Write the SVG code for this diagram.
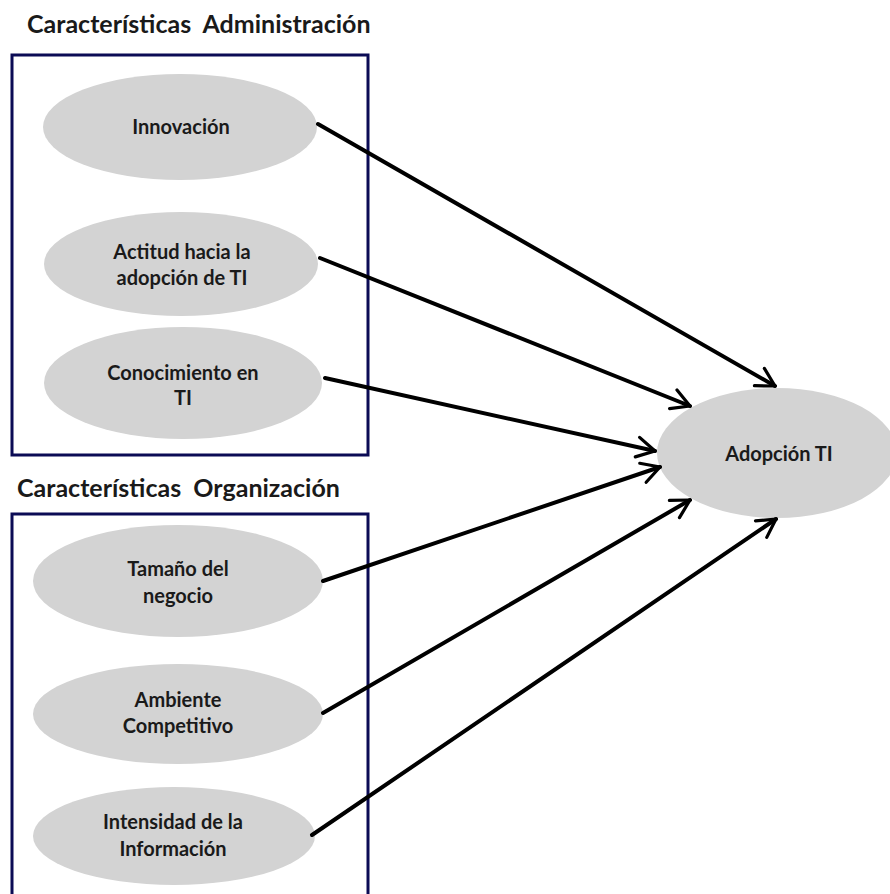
<svg xmlns="http://www.w3.org/2000/svg" width="890" height="894" viewBox="0 0 890 894">
  <style>
    .title { font-family: Lato, "Open Sans", "Liberation Sans", sans-serif; font-weight: bold; font-size: 25px; fill: #1a1a1a; white-space: pre; }
    .label { font-family: Lato, "Open Sans", "Liberation Sans", sans-serif; font-weight: bold; font-size: 20px; fill: #1a1a1a; text-anchor: middle; }
    .frame { fill: none; stroke: #0b0b55; stroke-width: 3; }
    .node { fill: #d3d3d3; }
    .link { fill: none; stroke: #000; stroke-width: 4; stroke-linecap: round; marker-end: url(#chevron); }
  </style>
  <defs>
    <marker id="chevron" viewBox="0 0 12 12" refX="10" refY="6" markerWidth="6" markerHeight="6" markerUnits="strokeWidth" orient="auto">
      <path d="M1,1 L10,6 L1,11" fill="none" stroke="#000" stroke-width="1.6" stroke-linecap="round" stroke-linejoin="round"/>
    </marker>
  </defs>
  <rect width="890" height="894" fill="#fff"/>

  <!-- group frames -->
  <g id="grupo-administracion">
    <text class="title" x="27" y="33" xml:space="preserve">Características  Administración</text>
    <rect class="frame" x="12" y="55" width="356" height="400"/>
  </g>
  <g id="grupo-organizacion">
    <text class="title" x="17" y="497" xml:space="preserve">Características  Organización</text>
    <rect class="frame" x="12" y="514" width="356" height="400"/>
  </g>

  <!-- nodes -->
  <g id="innovacion">
    <ellipse class="node" cx="180" cy="127" rx="137" ry="53"/>
    <text class="label" x="181" y="134">Innovación</text>
  </g>
  <g id="actitud">
    <ellipse class="node" cx="181" cy="264" rx="137" ry="52"/>
    <text class="label" x="182" y="259">Actitud hacia la</text>
    <text class="label" x="182" y="285">adopción de TI</text>
  </g>
  <g id="conocimiento">
    <ellipse class="node" cx="183" cy="383" rx="139" ry="56"/>
    <text class="label" x="183" y="380">Conocimiento en</text>
    <text class="label" x="183" y="405">TI</text>
  </g>
  <g id="tamano">
    <ellipse class="node" cx="178" cy="581" rx="145" ry="56"/>
    <text class="label" x="178" y="576">Tamaño del</text>
    <text class="label" x="178" y="603">negocio</text>
  </g>
  <g id="ambiente">
    <ellipse class="node" cx="178" cy="714" rx="145" ry="50"/>
    <text class="label" x="178" y="707">Ambiente</text>
    <text class="label" x="178" y="733">Competitivo</text>
  </g>
  <g id="intensidad">
    <ellipse class="node" cx="174" cy="836" rx="141" ry="49"/>
    <text class="label" x="173" y="829">Intensidad de la</text>
    <text class="label" x="173" y="856">Información</text>
  </g>
  <g id="adopcion">
    <ellipse class="node" cx="777" cy="453" rx="120" ry="65"/>
    <text class="label" x="779" y="461">Adopción TI</text>
  </g>

  <!-- connectors -->
  <g id="conexiones">
    <line class="link" x1="318" y1="124" x2="775" y2="386"/>
    <line class="link" x1="320" y1="258" x2="690" y2="406"/>
    <line class="link" x1="325" y1="378" x2="655" y2="451"/>
    <line class="link" x1="323" y1="581" x2="660" y2="467"/>
    <line class="link" x1="323" y1="713" x2="690" y2="500"/>
    <line class="link" x1="312" y1="835" x2="776" y2="519"/>
  </g>
</svg>
